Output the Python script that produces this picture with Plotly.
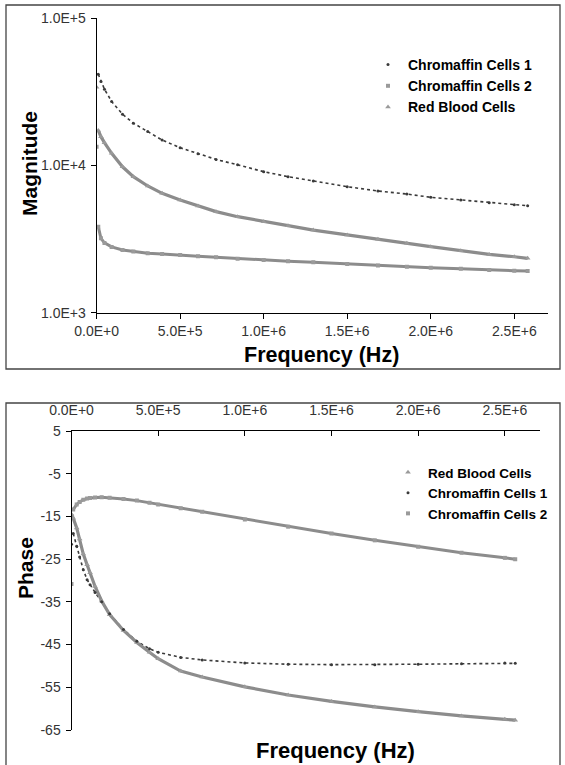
import plotly.graph_objects as go

W, H = 565, 765

# ---------------- data ----------------
FREQ_MAG_HZ = [0, 1.0e4, 2.6e4, 4.7e4, 9.0e4, 1.55e5, 2.2e5, 3.06e5, 3.92e5, 5.0e5,
               6.07e5, 7.15e5, 8.44e5, 1.0e6, 1.146e6, 1.297e6, 1.5e6, 1.684e6,
               1.857e6, 2.0e6, 2.18e6, 2.35e6, 2.5e6, 2.58e6]
MAG_CHROMAFFIN_1 = [None, 41700, 37200, 33000, 27200, 22300, 19400, 17000, 14900, 13200,
                    12000, 11000, 10100, 9080, 8400, 7850, 7180, 6710,
                    6400, 6080, 5830, 5590, 5420, 5330]
MAG_CHROMAFFIN_2 = [13400, 3840, 3200, 2980, 2800, 2670, 2600, 2530, 2500, 2470,
                    2420, 2380, 2330, 2280, 2240, 2200, 2140, 2090,
                    2050, 2020, 1990, 1950, 1930, 1920]
MAG_RBC = [34000, 17300, 15700, 14300, 12100, 9800, 8400, 7260, 6470, 5830,
           5310, 4860, 4490, 4150, 3900, 3640, 3370, 3150,
           2960, 2810, 2640, 2490, 2400, 2340]

FREQ_PH_HZ = [0, 1.0e4, 3.0e4, 4.7e4, 6.8e4, 9.0e4, 1.07e5, 1.36e5, 1.74e5, 2.2e5,
              3.0e5, 3.77e5, 4.5e5, 5.0e5, 6.3e5, 7.54e5, 1.0e6, 1.25e6,
              1.5e6, 1.75e6, 2.0e6, 2.25e6, 2.5e6, 2.56e6]
PH_RBC = [-14.5, -15.4, -17.7, -20.3, -23.8, -26.3, -28.2, -31.4, -34.8, -38.0,
          -41.7, -44.5, -46.8, -48.3, -51.2, -52.6, -54.9, -56.8,
          -58.3, -59.6, -60.7, -61.7, -62.5, -62.7]
PH_CHROMAFFIN_1 = [-21.5, -19.0, -22.0, -24.5, -27.5, -29.8, -31.0, -32.8, -35.0, -37.8,
                   -41.5, -44.2, -46.0, -46.8, -48.0, -48.6, -49.3, -49.6,
                   -49.7, -49.7, -49.6, -49.5, -49.3, -49.4]
PH_CHROMAFFIN_2 = [-30.8, -13.4, -12.2, -11.6, -11.1, -10.8, -10.7, -10.55, -10.5, -10.6,
                   -10.9, -11.3, -11.8, -12.2, -13.1, -13.9, -15.7, -17.4,
                   -19.0, -20.6, -22.1, -23.5, -24.7, -25.0]

X_TICKS = [0, 5e5, 1e6, 1.5e6, 2e6, 2.5e6]
X_TICKTEXT = ["0.0E+0", "5.0E+5", "1.0E+6", "1.5E+6", "2.0E+6", "2.5E+6"]
MAG_TICKS = [1e3, 1e4, 1e5]
MAG_TICKTEXT = ["1.0E+3", "1.0E+4", "1.0E+5"]
PH_TICKS = [5, -5, -15, -25, -35, -45, -55, -65]
PH_TICKTEXT = ["5", "-5", "-15", "-25", "-35", "-45", "-55", "-65"]

# ---------------- styles ----------------
DARK = "#3a3a3a"
GRAY = "#8c8c8c"
LGRAY = "#9a9a9a"
FONT = "Liberation Sans, Arial, sans-serif"


def px(xp):
    return xp / W


def py(yp):
    return 1 - yp / H


fig = go.Figure()

# ---- top panel: magnitude ----
fig.add_trace(go.Scatter(x=FREQ_MAG_HZ[1:], y=MAG_CHROMAFFIN_1[1:], mode="lines",
                         line=dict(color=DARK, width=1.6, dash="dot"),
                         showlegend=False, xaxis="x", yaxis="y", hoverinfo="skip"))
fig.add_trace(go.Scatter(x=FREQ_MAG_HZ[1:], y=MAG_CHROMAFFIN_2[1:], mode="lines",
                         line=dict(color=GRAY, width=3),
                         showlegend=False, xaxis="x", yaxis="y", hoverinfo="skip"))
fig.add_trace(go.Scatter(x=FREQ_MAG_HZ[1:], y=MAG_RBC[1:], mode="lines",
                         line=dict(color=GRAY, width=3.2),
                         showlegend=False, xaxis="x", yaxis="y", hoverinfo="skip"))

fig.add_trace(go.Scatter(x=FREQ_MAG_HZ, y=MAG_CHROMAFFIN_1, mode="markers",
                         name="Chromaffin Cells 1",
                         marker=dict(symbol="circle", size=3, color=DARK),
                         xaxis="x", yaxis="y", legend="legend"))
fig.add_trace(go.Scatter(x=FREQ_MAG_HZ, y=MAG_CHROMAFFIN_2, mode="markers",
                         name="Chromaffin Cells 2",
                         marker=dict(symbol="square", size=4, color=LGRAY),
                         xaxis="x", yaxis="y", legend="legend"))
fig.add_trace(go.Scatter(x=FREQ_MAG_HZ, y=MAG_RBC, mode="markers",
                         name="Red Blood Cells",
                         marker=dict(symbol="triangle-up", size=5, color=LGRAY),
                         xaxis="x", yaxis="y", legend="legend"))

# ---- bottom panel: phase ----
fig.add_trace(go.Scatter(x=FREQ_PH_HZ[1:], y=PH_CHROMAFFIN_1[1:], mode="lines",
                         line=dict(color=DARK, width=1.6, dash="dot"),
                         showlegend=False, xaxis="x2", yaxis="y2", hoverinfo="skip"))
fig.add_trace(go.Scatter(x=FREQ_PH_HZ[1:], y=PH_CHROMAFFIN_2[1:], mode="lines",
                         line=dict(color=GRAY, width=3),
                         showlegend=False, xaxis="x2", yaxis="y2", hoverinfo="skip"))
fig.add_trace(go.Scatter(x=FREQ_PH_HZ, y=PH_RBC, mode="lines",
                         line=dict(color=GRAY, width=3.2),
                         showlegend=False, xaxis="x2", yaxis="y2", hoverinfo="skip"))

fig.add_trace(go.Scatter(x=FREQ_PH_HZ, y=PH_RBC, mode="markers",
                         name="Red Blood Cells",
                         marker=dict(symbol="triangle-up", size=5, color=LGRAY),
                         xaxis="x2", yaxis="y2", legend="legend2"))
fig.add_trace(go.Scatter(x=FREQ_PH_HZ, y=PH_CHROMAFFIN_1, mode="markers",
                         name="Chromaffin Cells 1",
                         marker=dict(symbol="circle", size=3, color=DARK),
                         xaxis="x2", yaxis="y2", legend="legend2"))
fig.add_trace(go.Scatter(x=FREQ_PH_HZ, y=PH_CHROMAFFIN_2, mode="markers",
                         name="Chromaffin Cells 2",
                         marker=dict(symbol="square", size=4, color=LGRAY),
                         xaxis="x2", yaxis="y2", legend="legend2"))

tickfont = dict(family=FONT, size=14, color="#333333")
axis_common = dict(showgrid=False, zeroline=False, showline=True, linecolor="black",
                   linewidth=1, ticks="outside", ticklen=5, tickcolor="black",
                   tickfont=tickfont, fixedrange=True, automargin=False)

fig.update_layout(
    template="none",
    width=W, height=H,
    margin=dict(l=0, r=0, t=0, b=0, pad=0, autoexpand=False),
    paper_bgcolor="white", plot_bgcolor="white",
    font=dict(family=FONT, color="black"),
    xaxis=dict(domain=[px(96.6), px(547.7)], anchor="y", range=[0, 2.7e6],
               tickvals=X_TICKS, ticktext=X_TICKTEXT, ticklabelstandoff=0,
               **axis_common),
    yaxis=dict(domain=[py(312.7), py(18.3)], anchor="x", type="log", range=[3, 5],
               tickvals=MAG_TICKS, ticktext=MAG_TICKTEXT, ticklabelstandoff=2,
               **axis_common),
    xaxis2=dict(domain=[px(71.5), px(539.5)], anchor="y2", side="top", range=[0, 2.7e6],
                tickvals=X_TICKS, ticktext=X_TICKTEXT, ticklabelstandoff=9,
                **{**axis_common, "ticks": "inside"}),
    yaxis2=dict(domain=[py(730), py(431)], anchor="x2", range=[-65, 5],
                tickvals=PH_TICKS, ticktext=PH_TICKTEXT, ticklabelstandoff=2,
                **axis_common),
    legend=dict(x=px(368), y=py(49), xanchor="left", yanchor="top",
                bgcolor="rgba(0,0,0,0)", borderwidth=0, tracegroupgap=0,
                itemwidth=30,
                font=dict(family=FONT, size=14, color="black", weight="bold")),
    legend2=dict(x=px(388), y=py(457), xanchor="left", yanchor="top",
                 bgcolor="rgba(0,0,0,0)", borderwidth=0, tracegroupgap=0,
                 itemwidth=30,
                 font=dict(family=FONT, size=13.5, color="black", weight="bold")),
    showlegend=True,
)

# panel frames
fig.add_shape(type="rect", xref="paper", yref="paper",
              x0=px(6), x1=px(560), y0=py(369), y1=py(5),
              line=dict(color="#444444", width=1.3), layer="below")
fig.add_shape(type="rect", xref="paper", yref="paper",
              x0=px(6), x1=px(560), y0=py(775), y1=py(403),
              line=dict(color="#444444", width=1.3), layer="below")

# axis titles
title_font = dict(family=FONT, size=21, color="black", weight="bold")
fig.add_annotation(text="Magnitude", xref="paper", yref="paper", x=px(29), y=py(164),
                   textangle=-90, showarrow=False, font=title_font,
                   xanchor="center", yanchor="middle")
fig.add_annotation(text="Frequency (Hz)", xref="paper", yref="paper", x=px(321), y=py(355),
                   showarrow=False, font=dict(title_font, size=21.5),
                   xanchor="center", yanchor="middle")
fig.add_annotation(text="Phase", xref="paper", yref="paper", x=px(25), y=py(568),
                   textangle=-90, showarrow=False, font=title_font,
                   xanchor="center", yanchor="middle")
fig.add_annotation(text="Frequency (Hz)", xref="paper", yref="paper", x=px(335), y=py(750),
                   showarrow=False, font=dict(title_font, size=22),
                   xanchor="center", yanchor="middle")

fig.write_html("out.html")
